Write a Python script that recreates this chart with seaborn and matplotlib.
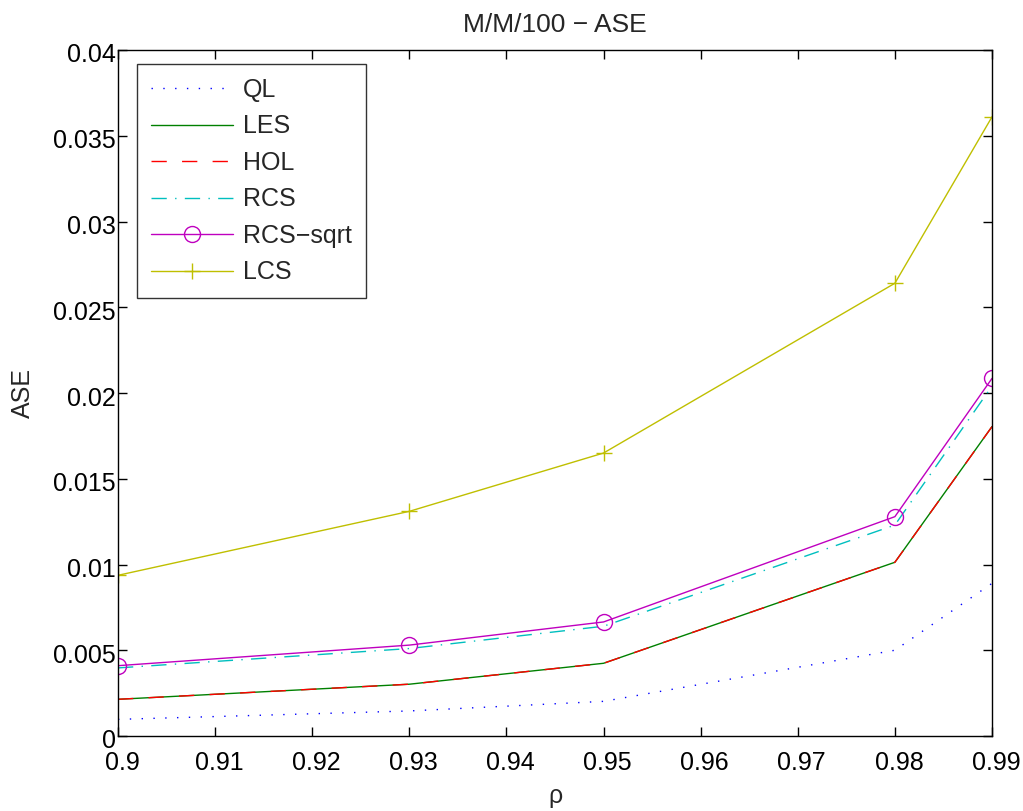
import numpy as np
import pandas as pd
import matplotlib
matplotlib.use("Agg")
import matplotlib.pyplot as plt
import matplotlib.transforms as mtransforms
import seaborn as sns

rho = [0.90, 0.93, 0.95, 0.98, 0.99]
ql = [0.00097, 0.00146, 0.00202, 0.00500, 0.00890]
les = [0.00214, 0.00302, 0.00424, 0.01013, 0.01804]
hol = [0.00214, 0.00302, 0.00424, 0.01013, 0.01804]
rcs = [0.00397, 0.00510, 0.00640, 0.01230, 0.02040]
rcs_sqrt = [0.00410, 0.00530, 0.00665, 0.01279, 0.02085]
lcs = [0.00937, 0.01310, 0.01650, 0.02640, 0.03610]

x_tick_labels = ["0.9", "0.91", "0.92", "0.93", "0.94", "0.95", "0.96", "0.97", "0.98", "0.99"]
y_tick_labels = ["0", "0.005", "0.01", "0.015", "0.02", "0.025", "0.03", "0.035", "0.04"]

series = {
    "QL": ql,
    "LES": les,
    "HOL": hol,
    "RCS": rcs,
    "RCS\u2212sqrt": rcs_sqrt,
    "LCS": lcs,
}
df = pd.DataFrame(
    [(name, r, v) for name, vals in series.items() for r, v in zip(rho, vals)],
    columns=["method", "rho", "ase"],
)

sns.set_theme(style="white")
plt.rcParams["font.family"] = ["Liberation Sans", "DejaVu Sans"]

fig = plt.figure(figsize=(10.23, 8.11), dpi=100)
ax = fig.add_axes([118 / 1023, 1 - 736 / 811, (992 - 118) / 1023, (736 - 50) / 811])

styles = {
    "QL": dict(color="#0000ff", ls=(0, (1, 7.5)), marker="None", ms=0),
    "LES": dict(color="#008000", ls="-", marker="None", ms=0),
    "HOL": dict(color="#ff0000", ls=(0, (11, 11)), marker="None", ms=0),
    "RCS": dict(color="#00bfbf", ls=(0, (11, 6, 1, 6)), marker="None", ms=0),
    "RCS\u2212sqrt": dict(color="#bf00bf", ls="-", marker="o", ms=11.5),
    "LCS": dict(color="#bfbf00", ls="-", marker="+", ms=12),
}

for name in series:
    sub = df[df["method"] == name]
    st = styles[name]
    sns.lineplot(data=sub, x="rho", y="ase", ax=ax, label=name,
                 color=st["color"], linewidth=1.0)
    line = ax.lines[-1]
    line.set_linestyle(st["ls"])
    line.set_marker(st["marker"])
    line.set_markersize(st["ms"])
    line.set_markerfacecolor("none")
    line.set_markeredgecolor(st["color"])
    line.set_markeredgewidth(1.0)

ax.set_xlim(0.9, 0.99)
ax.set_ylim(0, 0.04)
ax.set_xticks(np.arange(0.90, 0.9901, 0.01))
ax.set_xticklabels(x_tick_labels)
ax.set_yticks(np.arange(0, 0.04001, 0.005))
ax.set_yticklabels(y_tick_labels)
ax.tick_params(direction="in", length=6.5, width=1, labelsize=18, colors="black",
               top=True, right=True, bottom=True, left=True)
ax.tick_params(axis="x", pad=11)
ax.tick_params(axis="y", pad=1.5)
for sp in ax.spines.values():
    sp.set_visible(True)
    sp.set_color("black")
    sp.set_linewidth(1.0)

# small offsets of the tick labels
dx = mtransforms.ScaledTranslation(4 / 100, 0, fig.dpi_scale_trans)
dy = mtransforms.ScaledTranslation(0, -3 / 100, fig.dpi_scale_trans)
for lbl in ax.get_xticklabels():
    lbl.set_transform(lbl.get_transform() + dx)
for lbl in ax.get_yticklabels():
    lbl.set_transform(lbl.get_transform() + dy)

ax.set_xlabel("\u03c1", fontsize=18, labelpad=6.5)
ax.set_ylabel("ASE", fontsize=18, labelpad=13)
ax.set_title("M/M/100 \u2212 ASE", fontsize=19, pad=13)

leg = ax.legend(loc="upper left", fontsize=18, frameon=True, fancybox=False,
                edgecolor="black", borderpad=0.55, handlelength=3.3,
                handletextpad=0.4, labelspacing=0.5, borderaxespad=0,
                bbox_to_anchor=((137 - 118) / 874, (736 - 64) / 686))
leg.get_frame().set_linewidth(1.0)

fig.savefig("out.png", dpi=100)
